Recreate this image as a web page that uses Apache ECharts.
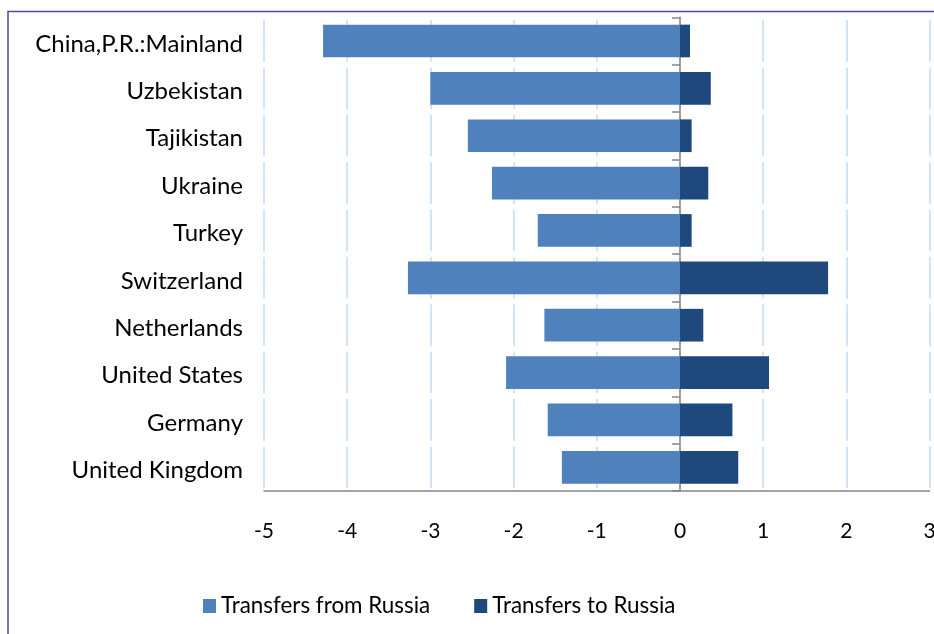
<!DOCTYPE html>
<html>
<head>
<meta charset="utf-8">
<title>Transfers from and to Russia</title>
<script src="https://cdn.jsdelivr.net/npm/echarts@6/dist/echarts.min.js"></script>
<style>
  html, body { margin: 0; padding: 0; background: #ffffff; overflow: hidden; }
  #chart { width: 934px; height: 634px; }
</style>
</head>
<body>
<div id="chart"></div>
<script>
// Countries, listed top to bottom
const countries = [
  'China,P.R.:Mainland', 'Uzbekistan', 'Tajikistan', 'Ukraine', 'Turkey',
  'Switzerland', 'Netherlands', 'United States', 'Germany', 'United Kingdom'
];
const transfersFrom = [-4.29, -3.00, -2.55, -2.26, -1.71, -3.27, -1.63, -2.09, -1.59, -1.42];
const transfersTo   = [0.12, 0.37, 0.14, 0.34, 0.14, 1.78, 0.28, 1.07, 0.63, 0.70];
const xTicks = { min: -5, max: 3, step: 1 };
const seriesNames = ['Transfers from Russia', 'Transfers to Russia'];

const FONT = 'Lato, "Open Sans", sans-serif';
const gridTop = 17.3, gridHeight = 473.7;
const band = gridHeight / countries.length;
const gapLen = 5.6;

const chart = echarts.init(document.getElementById('chart'), null, { renderer: 'canvas' });
chart.setOption({
  backgroundColor: '#ffffff',
  animation: false,
  textStyle: { fontFamily: FONT },
  grid: {
    left: 264, right: 4.4, top: gridTop, height: gridHeight,
    containLabel: false, outerBoundsMode: 'none'
  },
  graphic: [{
    type: 'polyline',
    shape: { points: [[8, 640], [8, 11.5], [940, 11.5]] },
    style: { stroke: '#4a4aa4', lineWidth: 1.5, fill: null },
    silent: true, z: 10
  }],
  legend: {
    data: seriesNames,
    left: 203, top: 595, padding: 0,
    itemWidth: 13, itemHeight: 14, itemGap: 44,
    icon: 'rect',
    textStyle: { fontFamily: FONT, fontSize: 22.4, color: '#000' }
  },
  xAxis: {
    type: 'value',
    min: xTicks.min, max: xTicks.max, interval: xTicks.step,
    axisLine: { show: true, onZero: false, lineStyle: { color: '#868686', width: 1.5 } },
    axisTick: { show: false },
    axisLabel: { fontFamily: FONT, fontSize: 21, color: '#000', margin: 30 },
    splitLine: {
      show: true,
      lineStyle: {
        color: '#c4dcf6', width: 1.5,
        type: [band - gapLen, gapLen],
        dashOffset: band - gapLen / 2
      }
    }
  },
  yAxis: [{
    type: 'category',
    data: countries,
    inverse: true,
    axisLine: { show: false, onZero: false },
    axisTick: { show: false },
    axisLabel: {
      margin: 21,
      formatter: v => '{c|' + v + '}',
      rich: {
        c: { fontFamily: FONT, fontSize: 24, color: '#000', padding: [6, 0, 0, 0] }
      }
    }
  }, {
    type: 'category',
    data: countries,
    inverse: true,
    position: 'left',
    axisLine: { show: true, onZero: true, lineStyle: { color: '#868686', width: 1.5 } },
    axisTick: { show: true, length: 8, lineStyle: { color: '#868686', width: 1.5 } },
    axisLabel: { show: false },
    splitLine: { show: false }
  }],
  series: [{
    name: seriesNames[0],
    type: 'bar',
    stack: 'flow',
    yAxisIndex: 0,
    barCategoryGap: '31%',
    itemStyle: { color: '#4f81bd' },
    data: transfersFrom
  }, {
    name: seriesNames[1],
    type: 'bar',
    stack: 'flow',
    yAxisIndex: 0,
    barCategoryGap: '31%',
    itemStyle: { color: '#1f497d' },
    data: transfersTo
  }]
});
</script>
</body>
</html>
